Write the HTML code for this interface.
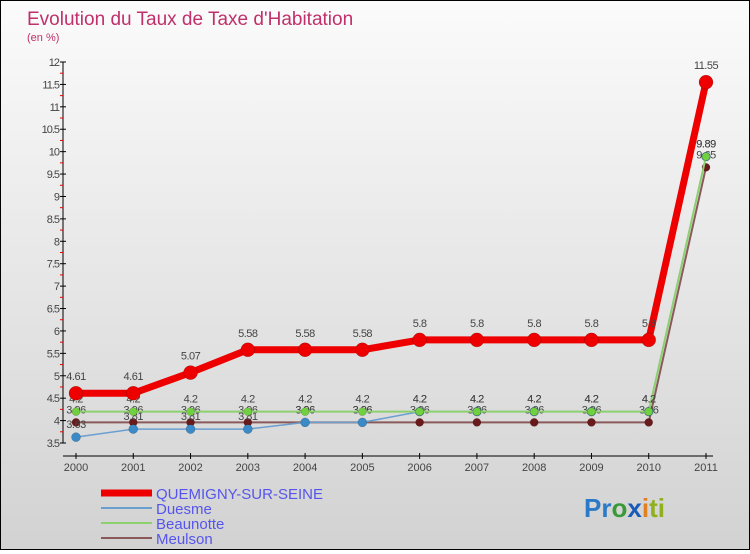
<!DOCTYPE html>
<html><head><meta charset="utf-8"><style>
body{margin:0;width:750px;height:550px;overflow:hidden;font-family:"Liberation Sans",sans-serif}
#wrap{position:relative;width:748px;height:548px;border:1px solid #000;background:linear-gradient(#fbfbfb,#d2d2d2)}
text{font-family:"Liberation Sans",sans-serif}
</style></head><body>
<div id="wrap">
<svg id="chart" width="748" height="548">
<text x="26" y="24" font-size="19" fill="#c0306a">Evolution du Taux de Taxe d'Habitation</text>
<text x="26" y="40" font-size="11" fill="#c0306a">(en %)</text>
<g id="axes"></g><g id="series"></g>
<g>
<line x1="100" y1="492" x2="151" y2="492" stroke="#e00" stroke-width="7"/>
<text x="155" y="498" font-size="15" fill="#5555ee">QUEMIGNY-SUR-SEINE</text>
<line x1="100" y1="507" x2="151" y2="507" stroke="#6a9fd0" stroke-width="2"/>
<text x="155" y="513" font-size="15" fill="#5555ee">Duesme</text>
<line x1="100" y1="522" x2="151" y2="522" stroke="#8cd070" stroke-width="2"/>
<text x="155" y="528" font-size="15" fill="#5555ee">Beaunotte</text>
<line x1="100" y1="537" x2="151" y2="537" stroke="#8a5a5a" stroke-width="2"/>
<text x="155" y="543" font-size="15" fill="#5555ee">Meulson</text>
</g>
<text x="583" y="516" font-size="26" font-weight="bold"><tspan fill="#2a7ac8">Pr</tspan><tspan fill="#3a9a3a">o</tspan><tspan fill="#1a5ab8">x</tspan><tspan fill="#e08020">i</tspan><tspan fill="#90b020">ti</tspan></text>
</svg></div>
<script>
const years=["2000","2001","2002","2003","2004","2005","2006","2007","2008","2009","2010","2011"];
const quemigny=[4.61,4.61,5.07,5.58,5.58,5.58,5.8,5.8,5.8,5.8,5.8,11.55];
const duesme=[3.63,3.81,3.81,3.81,3.96,3.96,4.2,4.2,4.2,4.2,4.2,9.89];
const beaunotte=[4.2,4.2,4.2,4.2,4.2,4.2,4.2,4.2,4.2,4.2,4.2,9.89];
const meulson=[3.96,3.96,3.96,3.96,3.96,3.96,3.96,3.96,3.96,3.96,3.96,9.65];
const yTicks=[3.5,4,4.5,5,5.5,6,6.5,7,7.5,8,8.5,9,9.5,10,10.5,11,11.5,12];
const ns="http://www.w3.org/2000/svg";
const X=i=>75+i*(630/11);
const Y=v=>442-(v-3.5)*(381/8.5);
function mk(tag,at,parent){const e=document.createElementNS(ns,tag);for(const k in at)e.setAttribute(k,at[k]);parent.appendChild(e);return e;}
const ax=document.getElementById('axes'),sg=document.getElementById('series');
let a=mk('line',{x1:62,y1:Y(12),x2:62,y2:Y(3.5),stroke:'#000'},ax);


a=mk('line',{x1:62,y1:455,x2:712,y2:455,stroke:'#000'},ax);


yTicks.forEach((v,i)=>{
  let t=mk('line',{x1:59,y1:Y(v),x2:65,y2:Y(v),stroke:'#000'},ax);
  
  
  if(i<yTicks.length-1){let m=mk('line',{x1:59,y1:Y(v+0.25),x2:62,y2:Y(v+0.25),stroke:'#e00'},ax);
  
  }
  let l=mk('text',{x:58,y:Y(v)+4,'font-size':11,'text-anchor':'end',fill:'#444','letter-spacing':'-1'},ax);
  l.textContent=String(v);
  
  
});
years.forEach((yr,i)=>{
  let t=mk('line',{x1:X(i),y1:452,x2:X(i),y2:458,stroke:'#000'},ax);
  
  
  let l=mk('text',{x:X(i),y:470,'font-size':11,'text-anchor':'middle',fill:'#444'},ax);
  l.textContent=yr;
  
  
});
function series(name,data,color,w,r,dot,labels,dy){
  const g=mk('g',{},sg);
  
  
  const p=mk('polyline',{points:data.map((v,i)=>X(i)+','+Y(v)).join(' '),fill:'none',stroke:color,'stroke-width':w,'stroke-linejoin':'round'},g);
  
  
  data.forEach((v,i)=>{
    const c=mk('circle',{cx:X(i),cy:Y(v),r:r,fill:dot,stroke:'rgba(0,0,0,0.3)','stroke-width':0.5},g);
    
    
    if(labels){const t=mk('text',{x:X(i),y:Y(v)+dy,'font-size':11,'text-anchor':'middle',fill:'#444','letter-spacing':'-0.5'},g);
    t.textContent=String(v);
    
    }
  });
}
series('meulson',meulson,'#8a5a5a',2,4,'#6a1a1a',true,-9);
series('duesme',duesme,'#6a9fd0',1.5,4.5,'#3a8ac8',true,-9);
series('beaunotte',beaunotte,'#8cd070',2,4,'#70d040',true,-9);
series('quemigny',quemigny,'#ee0000',7,7,'#ee0000',true,-13);
</script>
</body></html>
